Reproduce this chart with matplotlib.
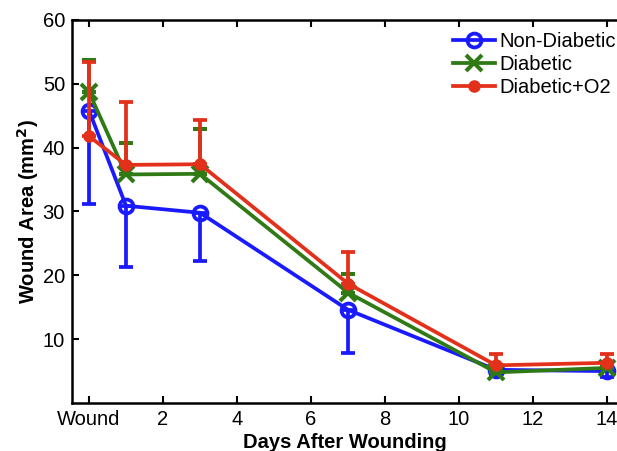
import numpy as np
import matplotlib
matplotlib.use("Agg")
import matplotlib.pyplot as plt

plt.rcParams['font.family'] = ['Liberation Sans', 'DejaVu Sans']

# days after wounding (0 = day of wounding)
days = [0, 1, 3, 7, 11, 14]
tick_pos = [0, 2, 4, 6, 8, 10, 12, 14]
tick_labels = ['Wound', '2', '4', '6', '8', '10', '12', '14']

# wound area (mm^2), one-sided error bars as drawn in the figure
nondiab = [45.8, 30.9, 29.8, 14.6, 5.2, 5.0]
nondiab_lo = [14.6, 9.6, 7.6, 6.8, 0.6, 1.0]
diab = [48.7, 35.8, 35.9, 17.3, 4.8, 5.5]
diab_hi = [5.1, 5.0, 7.1, 2.9, 0.6, 0.6]
diabo2 = [41.8, 37.3, 37.4, 18.7, 5.9, 6.3]
diabo2_hi = [11.6, 9.9, 7.0, 5.0, 1.8, 1.3]

blue = '#1a1aff'
green = '#2f7a14'
red = '#e3301a'

fig = plt.figure(figsize=(6.17, 4.51), dpi=100)
ax = fig.add_axes([0.1167, 0.1064, 0.8833, 0.8493])

zeros = np.zeros(len(days))
e1 = ax.errorbar(days, nondiab, yerr=[nondiab_lo, zeros], color=blue, lw=2.7,
                 marker='o', ms=10, mfc='none', mew=2.7, capsize=5, capthick=2.7,
                 zorder=3)
e2 = ax.errorbar(days, diab, yerr=[zeros, diab_hi], color=green, lw=2.7,
                 marker='x', ms=11, mew=2.9, capsize=5, capthick=2.7,
                 zorder=4)
e3 = ax.errorbar(days, diabo2, yerr=[zeros, diabo2_hi], color=red, lw=2.7,
                 marker='o', ms=8, mec=red, mfc=red, capsize=5, capthick=2.7,
                 zorder=5)

ax.set_xlim(-0.46, 14.27)
ax.set_ylim(0, 60)
ax.set_xticks(tick_pos)
ax.set_xticklabels(tick_labels)
ax.set_yticks([10, 20, 30, 40, 50, 60])
ax.tick_params(direction='in', length=5, width=1.5, labelsize=14.5,
               top=True, right=False, pad=5)
ax.spines['right'].set_visible(False)
for s in ['left', 'bottom', 'top']:
    ax.spines[s].set_linewidth(1.8)

ax.set_xlabel('Days After Wounding', fontsize=14.5, fontweight='bold', labelpad=3)
ax.set_ylabel('Wound Area (mm$^\\mathbf{2}$)', fontsize=14.5, fontweight='bold',
              labelpad=1)

ax.legend([e1[0], e2[0], e3[0]], ['Non-Diabetic', 'Diabetic', 'Diabetic+O2'],
          loc='upper left', bbox_to_anchor=(0.692, 0.978), frameon=False,
          fontsize=14.5, handlelength=2.1, handletextpad=0.2,
          labelspacing=0.2, borderaxespad=0, borderpad=0.2)

fig.savefig('out.png', dpi=100)
